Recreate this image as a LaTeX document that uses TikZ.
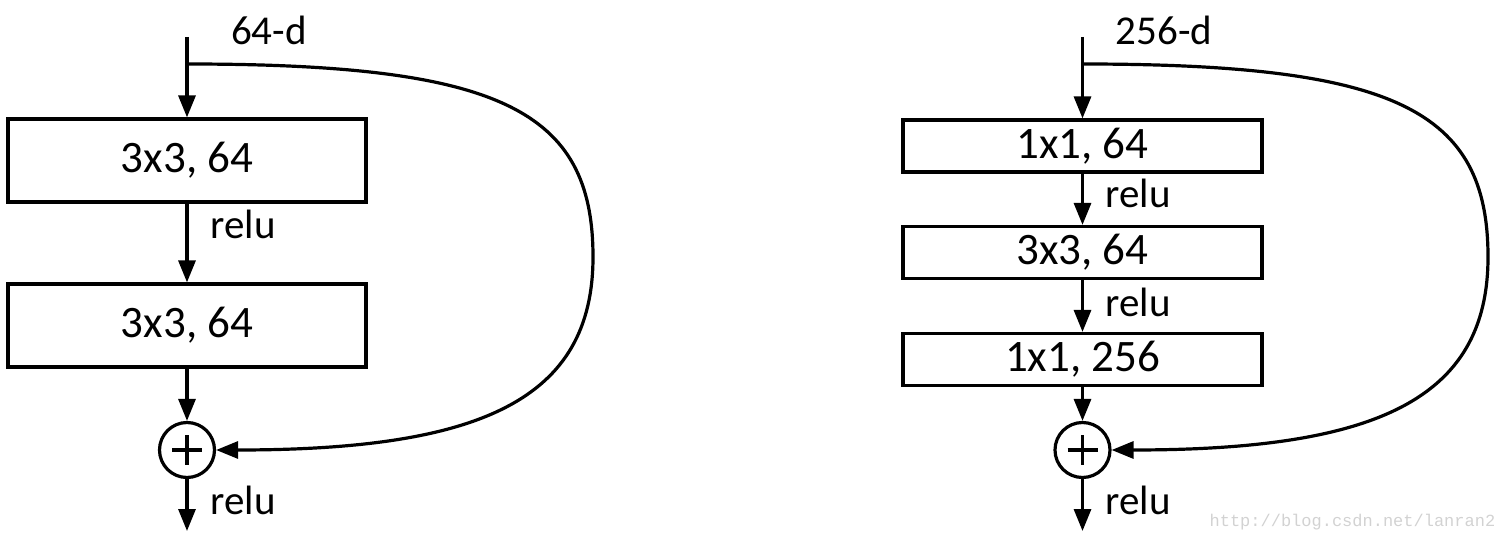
\documentclass[tikz,border=0pt]{standalone}
\usepackage{fontspec}
\setmainfont{Carlito}
\newfontfamily\wmfont{Liberation Mono}
\usetikzlibrary{arrows.meta}
\begin{document}
\begin{tikzpicture}[x=1pt,y=-1pt,line width=3.2pt,
  arr/.style={-{Triangle[length=22pt,width=17pt]}},
  lbox/.style={draw,rectangle,minimum width=358pt,minimum height=83pt,inner sep=0pt,font=\fontsize{45}{48}\selectfont},
  rbox/.style={draw,rectangle,minimum width=359pt,minimum height=52pt,inner sep=0pt,font=\fontsize{45}{48}\selectfont},
  sumnode/.style={draw,circle,minimum size=55pt,inner sep=0pt},
  lbl/.style={inner sep=0pt,font=\fontsize{41}{44}\selectfont},
  wm/.style={inner sep=0pt,text=gray!35,font=\wmfont\fontsize{17}{17}\selectfont}]
\useasboundingbox (0,0) rectangle (1499,545);
% ---------- left block ----------
\coordinate (Lin) at (187,37);
\coordinate (Lsplit) at (187,64);
\node[lbox] (L1) at (187,160.5) {3x3, 64};
\node[lbox] (L2) at (187,325.5) {3x3, 64};
\node[sumnode] (Ls) at (187,450) {};
\coordinate (Lout) at (187,531);
\coordinate (Lfar) at (593,257);
\node[lbl] (Ld) at (269,30) {64-d};
\node[lbl] (Lr1) at (243,224) {relu};
\node[lbl] (Lr2) at (243,500) {relu};
\draw[arr] (Lin) -- (L1);
\draw[arr] (L1) -- (L2);
\draw[arr] (L2) -- (Ls);
\draw[arr] (Ls) -- (Lout);
\draw (Ls.center) ++(-15,0) -- ++(30,0);
\draw (Ls.center) ++(0,-15) -- ++(0,30);
\draw[arr] (Lsplit) .. controls (500,64) and (593,110) .. (Lfar)
  .. controls (593,400) and (480,450) .. (Ls.east);
% ---------- right block ----------
\coordinate (Rin) at (1082.5,37);
\coordinate (Rsplit) at (1082.5,64);
\node[rbox] (R1) at (1082.5,146) {1x1, 64};
\node[rbox] (R2) at (1082.5,252.5) {3x3, 64};
\node[rbox] (R3) at (1082.5,359.5) {1x1, 256};
\node[sumnode] (Rs) at (1082.5,450) {};
\coordinate (Rout) at (1082.5,531);
\coordinate (Rfar) at (1488,257);
\node[lbl] (Rd) at (1164,30) {256-d};
\node[lbl] (Rr1) at (1138,193) {relu};
\node[lbl] (Rr2) at (1138,302) {relu};
\node[lbl] (Rr3) at (1138,500) {relu};
\draw[arr] (Rin) -- (R1);
\draw[arr] (R1) -- (R2);
\draw[arr] (R2) -- (R3);
\draw[arr] (R3) -- (Rs);
\draw[arr] (Rs) -- (Rout);
\draw (Rs.center) ++(-15,0) -- ++(30,0);
\draw (Rs.center) ++(0,-15) -- ++(0,30);
\draw[arr] (Rsplit) .. controls (1395,64) and (1488,110) .. (Rfar)
  .. controls (1488,400) and (1375,450) .. (Rs.east);
% watermark
\node[wm,anchor=west] (W) at (1208,522) {http://blog.csdn.net/lanran2};
\end{tikzpicture}
\end{document}
